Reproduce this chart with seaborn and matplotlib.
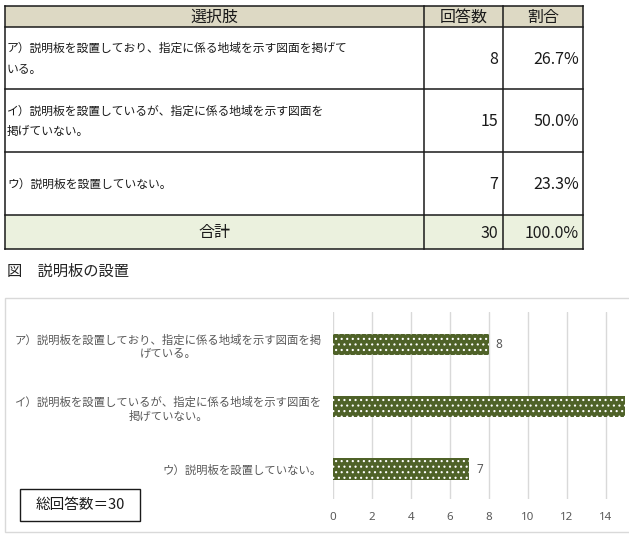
import matplotlib
matplotlib.use("Agg")
import matplotlib.pyplot as plt
import seaborn as sns
import pandas as pd
from matplotlib.patches import Rectangle

# ---------------- data ----------------
header = ["選択肢", "回答数", "割合"]
table_choices = [
    "ア）説明板を設置しており、指定に係る地域を示す図面を掲げて\nいる。",
    "イ）説明板を設置しているが、指定に係る地域を示す図面を\n掲げていない。",
    "ウ）説明板を設置していない。",
]
chart_labels = [
    "ア）説明板を設置しており、指定に係る地域を示す図面を掲\nげている。",
    "イ）説明板を設置しているが、指定に係る地域を示す図面を\n掲げていない。",
    "ウ）説明板を設置していない。",
]
counts = [8, 15, 7]
shares = ["26.7%", "50.0%", "23.3%"]
value_labels = ["8", "", "7"]   # the label of the 15 bar lies outside the cropped picture
total_label = "合計"
total_count = 30
total_share = "100.0%"
caption = "図　説明板の設置"
note = "総回答数＝30"
xticks = [0, 2, 4, 6, 8, 10, 12, 14]

# ---------------- style ----------------
sns.set_style("white")
plt.rcParams["font.family"] = ["Noto Sans CJK JP", "DejaVu Sans"]
plt.rcParams["hatch.linewidth"] = 0.8

W, H = 629, 544
fig = plt.figure(figsize=(W / 100, H / 100), dpi=100)

# overlay axes in pixel coordinates (table, caption, frames)
ov = fig.add_axes([0, 0, 1, 1])
ov.set_xlim(0, W)
ov.set_ylim(H, 0)
ov.axis("off")

col_edges = [5, 424, 503, 583]
row_edges = [6, 27, 89, 152, 215, 249]

ov.add_patch(Rectangle((col_edges[0], row_edges[0]), col_edges[-1] - col_edges[0],
                       row_edges[1] - row_edges[0], fc="#DDD9C4", ec="none"))
ov.add_patch(Rectangle((col_edges[0], row_edges[4]), col_edges[-1] - col_edges[0],
                       row_edges[5] - row_edges[4], fc="#EBF1DE", ec="none"))
for y in row_edges:
    ov.plot([col_edges[0], col_edges[-1]], [y, y], color="#1a1a1a", lw=1.1,
            solid_capstyle="projecting")
for x in col_edges:
    ov.plot([x, x], [row_edges[0], row_edges[-1]], color="#1a1a1a", lw=1.1,
            solid_capstyle="projecting")

txt_col = "#1a1a1a"
# header
for i, h in enumerate(header):
    cx = (col_edges[i] + col_edges[i + 1]) / 2
    cy = (row_edges[0] + row_edges[1]) / 2 + 0.5
    ov.text(cx, cy, h, ha="center", va="center", fontsize=11.5, color=txt_col)
# body rows
for r, (ch, c, s) in enumerate(zip(table_choices, counts, shares)):
    cy = (row_edges[r + 1] + row_edges[r + 2]) / 2 + 1
    ov.text(col_edges[0] + 2, cy, ch, ha="left", va="center", fontsize=8.5,
            color=txt_col, linespacing=1.8)
    ov.text(col_edges[2] - 5, cy, str(c), ha="right", va="center", fontsize=11.5, color=txt_col)
    ov.text(col_edges[3] - 4, cy, s, ha="right", va="center", fontsize=11.5, color=txt_col)
# total row
cy = (row_edges[4] + row_edges[5]) / 2 + 1
ov.text((col_edges[0] + col_edges[1]) / 2, cy, total_label, ha="center", va="center",
        fontsize=11.5, color=txt_col)
ov.text(col_edges[2] - 5, cy, str(total_count), ha="right", va="center", fontsize=11.5, color=txt_col)
ov.text(col_edges[3] - 4, cy, total_share, ha="right", va="center", fontsize=11.5, color=txt_col)

# caption
ov.text(7, 271, caption, ha="left", va="center", fontsize=11, color="#222222")

# chart frame
ov.add_patch(Rectangle((5, 298), 640, 234, fc="white", ec="#D9D9D9", lw=1.0))

# note box
ov.add_patch(Rectangle((20, 489), 120, 32, fc="white", ec="#1a1a1a", lw=1.0, zorder=3))
ov.text(80, 505.5, note, ha="center", va="center", fontsize=10.5, color="#1a1a1a", zorder=4)

# ---------------- bar chart ----------------
x0 = 332.7
unit = 19.5
xmax = (W - x0) / unit
ax = fig.add_axes([x0 / W, 1 - 499 / H, (W - x0) / W, (499 - 312) / H])
ax.set_facecolor("none")

df = pd.DataFrame({"label": chart_labels, "count": counts})
sns.barplot(data=df, x="count", y="label", orient="h", color="#4F6228",
            saturation=1, width=0.345, ax=ax)
for p in ax.patches:
    p.set_hatch("...")
    p.set_edgecolor("white")
    p.set_linewidth(0)

ax.bar_label(ax.containers[0], labels=value_labels, padding=5,
             color="#595959", fontsize=8.5, family=["Noto Sans", "DejaVu Sans"])

ax.set_xlim(0, xmax)
ax.set_ylim(2.48, -0.52)
ax.set_xticks(xticks)
ax.set_xticklabels([str(t) for t in xticks], family=["Noto Sans", "DejaVu Sans"])
ax.xaxis.grid(True, color="#D9D9D9", lw=1.0)
ax.yaxis.grid(False)
ax.set_axisbelow(True)
for s in ax.spines.values():
    s.set_visible(False)
ax.tick_params(axis="x", length=0, pad=9, labelsize=8.3, labelcolor="#595959")
ax.tick_params(axis="y", length=0, pad=8, labelsize=8.2, labelcolor="#595959")
for t in ax.get_yticklabels():
    t.set_multialignment("center")
    t.set_linespacing(1.3)
ax.set_xlabel("")
ax.set_ylabel("")

fig.savefig("out.png", dpi=100)
